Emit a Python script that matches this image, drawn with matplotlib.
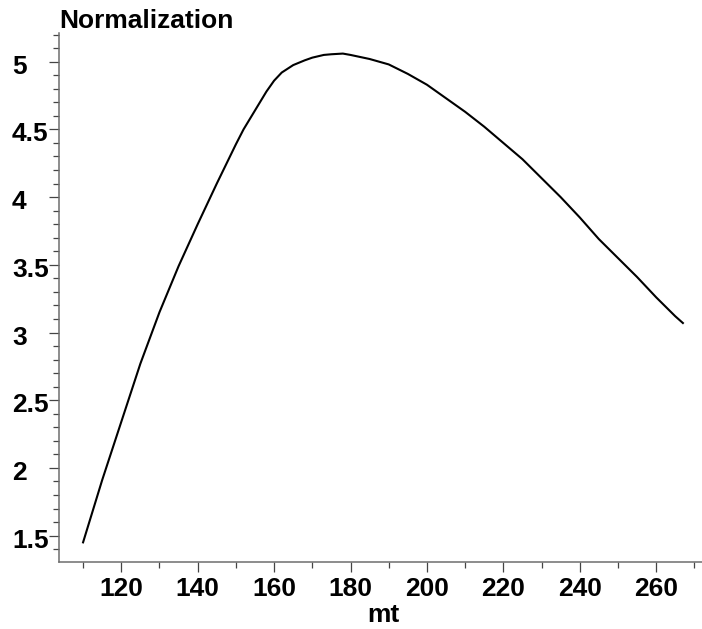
import matplotlib
matplotlib.use("Agg")
import matplotlib.pyplot as plt
import matplotlib.transforms as mtransforms
from matplotlib.ticker import MultipleLocator

# Normalization as a function of the top mass mt
mt = [110, 115, 120, 125, 130, 135, 140, 145, 150, 152, 155, 158, 160, 162,
      165, 168, 170, 173, 175, 178, 180, 185, 190, 195, 200, 205, 210, 215,
      220, 225, 230, 235, 240, 245, 250, 255, 260, 265, 267]
norm = [1.45, 1.91, 2.34, 2.77, 3.15, 3.49, 3.80, 4.10, 4.39, 4.50, 4.64, 4.78,
        4.86, 4.92, 4.975, 5.01, 5.03, 5.05, 5.055, 5.06, 5.05, 5.02, 4.98, 4.91,
        4.83, 4.73, 4.63, 4.52, 4.40, 4.28, 4.14, 4.00, 3.85, 3.69, 3.55, 3.41,
        3.26, 3.12, 3.07]

x_ticks = [120, 140, 160, 180, 200, 220, 240, 260]
y_ticks = [1.5, 2, 2.5, 3, 3.5, 4, 4.5, 5]
y_tick_labels = ["1.5", "2", "2.5", "3", "3.5", "4", "4.5", "5"]

plt.rcParams["font.family"] = ["Liberation Sans", "DejaVu Sans"]
plt.rcParams["font.weight"] = "bold"

W, H = 702, 629
FS = 19
fig = plt.figure(figsize=(W / 100, H / 100), dpi=100)
ax = fig.add_axes([59 / W, 1 - 562 / H, (702 - 59) / W, (562 - 33) / H])

ax.plot(mt, norm, color="black", linewidth=1.5, solid_joinstyle="round")

ax.set_xlim(103.7, 272)
ax.set_ylim(1.305, 5.212)

spine_color = "#6e6e6e"
for side in ("top", "right"):
    ax.spines[side].set_visible(False)
for side in ("left", "bottom"):
    ax.spines[side].set_color(spine_color)
    ax.spines[side].set_linewidth(1.1)

ax.set_xticks(x_ticks)
ax.xaxis.set_minor_locator(MultipleLocator(10))
ax.set_yticks(y_ticks)
ax.yaxis.set_minor_locator(MultipleLocator(0.1))
ax.tick_params(which="major", length=7, width=0.9, color="#444444")
ax.tick_params(which="minor", length=4.3, width=0.9, color="#444444")
ax.tick_params(axis="x", labelsize=FS, pad=4)
ax.tick_params(axis="y", labelleft=False)
for lab in ax.get_xticklabels():
    lab.set_fontweight("bold")

# left-aligned y labels, sitting slightly below their ticks
ytrans = ax.get_yaxis_transform() + mtransforms.ScaledTranslation(0, -0.05, fig.dpi_scale_trans)
for yv, txt in zip(y_ticks, y_tick_labels):
    ax.text((12 - 59) / (702 - 59), yv, txt, transform=ytrans, ha="left", va="center",
            fontsize=FS, fontweight="bold", clip_on=False)

ax.set_xlabel("mt", fontsize=FS, fontweight="bold")
ax.xaxis.set_label_coords(0.505, -(603 - 562) / (562 - 33), transform=ax.transAxes)
fig.text(59 / W, 1 - 28 / H, "Normalization", ha="left", va="baseline",
         fontsize=FS, fontweight="bold")

fig.savefig("out.png", dpi=100)
